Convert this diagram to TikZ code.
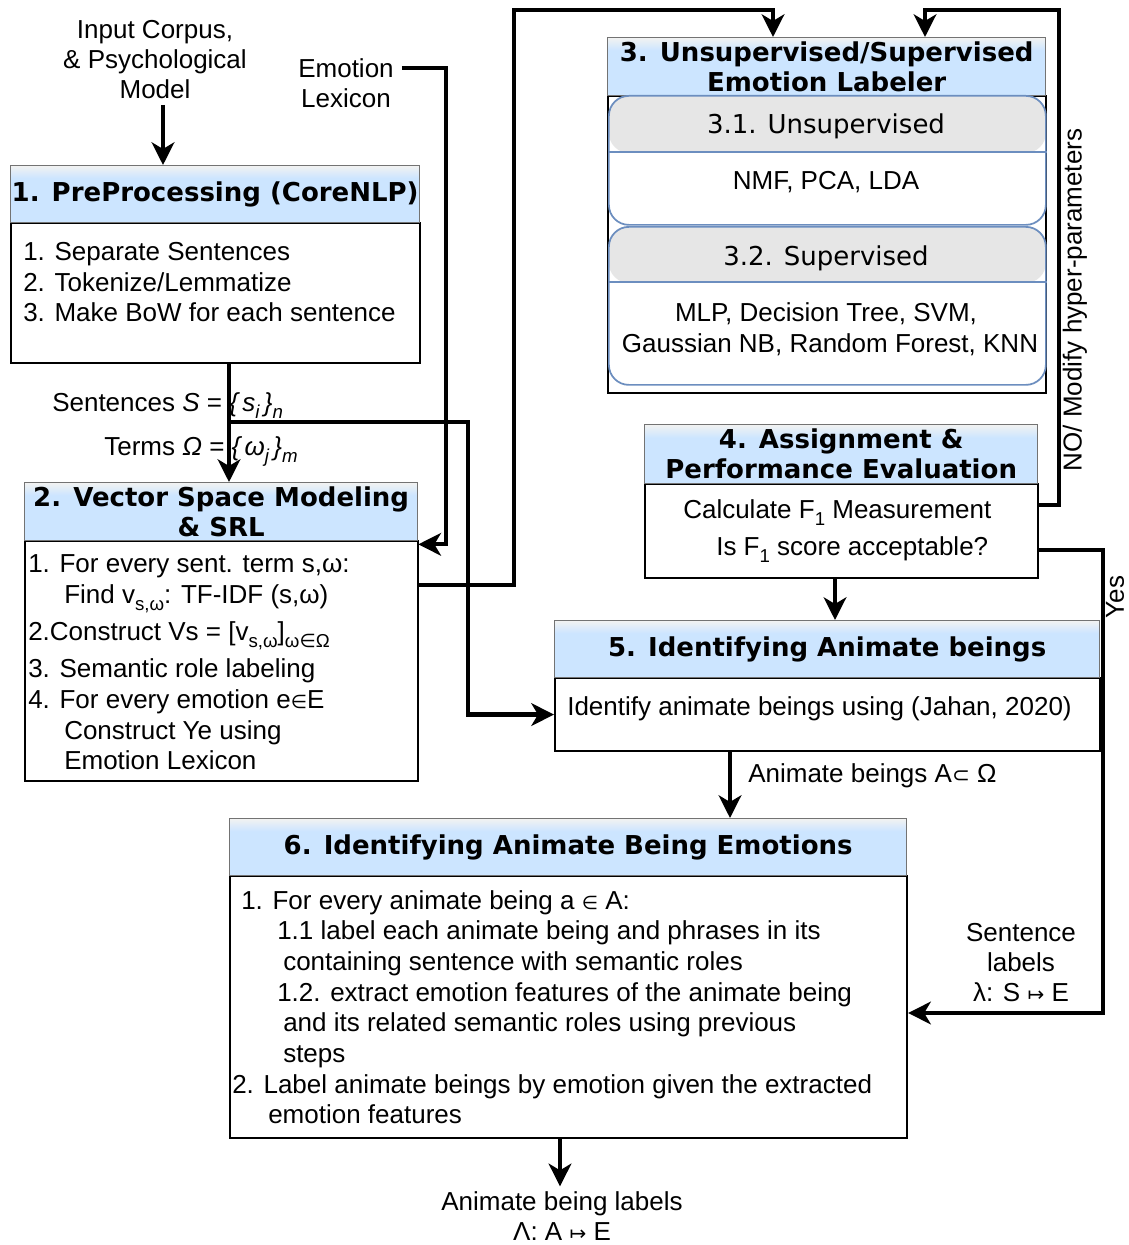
\documentclass[tikz,border=0pt]{standalone}
\usepackage{fontspec}
\setmainfont{Liberation Sans}
\newfontfamily\dv{DejaVu Sans}
\usetikzlibrary{arrows.meta,calc}
\definecolor{hdrblue}{HTML}{CCE5FF}
\definecolor{hdrtop}{HTML}{F2F2F2}
\definecolor{innerline}{HTML}{6C8EBF}
\definecolor{graybg}{HTML}{E6E6E6}
\pgfdeclareverticalshading{hdrshade}{100bp}{color(0bp)=(hdrblue); color(25bp)=(hdrblue); color(64bp)=(hdrblue); color(75bp)=(hdrtop); color(100bp)=(hdrtop)}
\newcommand{\bodyf}{\fontsize{19.5}{23.25}\selectfont}
\newcommand{\titlef}{\dv\bfseries\fontsize{19.5}{22.5}\selectfont}
\newcommand{\subf}{\dv\fontsize{19.5}{23}\selectfont}
\newcommand{\sbs}[1]{\raisebox{-0.28em}{\fontsize{14}{14}\selectfont #1}}
\newcommand{\elem}{{\dv\fontsize{14}{14}\selectfont ∈}}
\newcommand{\subsetsym}{{\dv\fontsize{16}{16}\selectfont ⊂}}
\newcommand{\mapsym}{{\dv\fontsize{15}{15}\selectfont ↦}}
\tikzset{
  hdr/.style={draw=black!55, line width=1pt, shading=hdrshade, anchor=north west, inner sep=0pt, font=\titlef, align=center},
  bodybox/.style={draw=black, line width=1.6pt, fill=white, anchor=north west, inner sep=0pt},
  innerbox/.style={draw=innerline, line width=1.3pt, fill=white, rounded corners=15pt, anchor=north west, inner sep=0pt},
  txt/.style={anchor=base west, inner sep=0pt, font=\bodyf},
  ctxt/.style={anchor=base, inner sep=0pt, font=\bodyf},
  lbl/.style={inner sep=0pt, font=\bodyf, align=center},
  conn/.style={line width=3.2pt, -{Stealth[length=17pt,width=17pt,inset=5pt]}},
}
\begin{document}
\begin{tikzpicture}[x=0.75pt,y=-0.75pt]
\useasboundingbox (0,0) rectangle (1128,1245);

% ---------- Box 1
\node[bodybox, minimum width=409*0.75pt, minimum height=140*0.75pt] (b1) at (10,222) {};
\node[hdr, minimum width=409*0.75pt, minimum height=57*0.75pt] (h1) at (10,165) {1. PreProcessing (CoreNLP)};
\node[txt] (t1a) at (23,260) {1. Separate Sentences};
\node[txt] (t1b) at (23,291) {2. Tokenize/Lemmatize};
\node[txt] (t1c) at (23,321) {3. Make BoW for each sentence};

% ---------- Box 2
\node[bodybox, minimum width=393*0.75pt, minimum height=240*0.75pt] (b2) at (24,540) {};
\node[hdr, minimum width=393*0.75pt, minimum height=58*0.75pt] (h2) at (24,482) {2. Vector Space Modeling\\\& SRL};
\node[txt] (t2a) at (28,572) {1. For every sent. term s,ω:};
\node[txt] (t2b) at (64,603) {Find v\sbs{s,ω}: TF-IDF (s,ω)};
\node[txt] (t2c) at (28,640) {2.Construct Vs = [v\sbs{s,ω}]\sbs{ω\elem Ω}};
\node[txt] (t2d) at (28,677) {3. Semantic role labeling};
\node[txt] (t2e) at (28,708) {4. For every emotion e\elem E};
\node[txt] (t2f) at (64,739) {Construct Ye using};
\node[txt] (t2g) at (64,769) {Emotion Lexicon};

% ---------- Box 3
\node[bodybox, minimum width=438*0.75pt, minimum height=297*0.75pt] (b3) at (607,95) {};
\node[hdr, minimum width=438*0.75pt, minimum height=58*0.75pt] (h3) at (607,37) {3. Unsupervised/Supervised\\Emotion Labeler};
\node[innerbox, minimum width=437*0.75pt, minimum height=129*0.75pt,
  path picture={\fill[graybg] (path picture bounding box.north west) rectangle ([yshift=-57*0.75pt]path picture bounding box.north east);}] (u31) at (608,95) {};
\draw[innerline, line width=1.3pt] ($(u31.north west)+(0,57)$) -- ($(u31.north east)+(0,57)$);
\node[innerbox, minimum width=437*0.75pt, minimum height=158*0.75pt,
  path picture={\fill[graybg] (path picture bounding box.north west) rectangle ([yshift=-56*0.75pt]path picture bounding box.north east);}] (u32) at (608,226) {};
\draw[innerline, line width=1.3pt] ($(u32.north west)+(0,56)$) -- ($(u32.north east)+(0,56)$);
\node[anchor=base, inner sep=0pt, font=\subf] (t31h) at (826,134) {3.1. Unsupervised};
\node[ctxt] (t31b) at (826,190) {NMF, PCA, LDA};
\node[anchor=base, inner sep=0pt, font=\subf] (t32h) at (826,265) {3.2. Supervised};
\node[ctxt] (t32b) at (826,321) {MLP, Decision Tree, SVM,};
\node[ctxt] (t32c) at (830,352) {Gaussian NB, Random Forest, KNN};

% ---------- Box 4
\node[bodybox, minimum width=393*0.75pt, minimum height=94*0.75pt] (b4) at (644,483) {};
\node[hdr, minimum width=393*0.75pt, minimum height=59*0.75pt] (h4) at (644,424) {4. Assignment \&\\Performance Evaluation};
\node[txt] (t4a) at (683,518) {Calculate F\sbs{1} Measurement};
\node[txt] (t4b) at (716,555) {Is F\sbs{1} score acceptable?};

% ---------- Box 5
\node[bodybox, minimum width=545*0.75pt, minimum height=73*0.75pt] (b5) at (554,677) {};
\node[hdr, minimum width=545*0.75pt, minimum height=57*0.75pt] (h5) at (554,620) {5. Identifying Animate beings};
\node[txt] (t5a) at (567,715) {Identify animate beings using (Jahan, 2020)};

% ---------- Box 6
\node[bodybox, minimum width=677*0.75pt, minimum height=262*0.75pt] (b6) at (229,875) {};
\node[hdr, minimum width=677*0.75pt, minimum height=57*0.75pt] (h6) at (229,818) {6. Identifying Animate Being Emotions};
\node[txt] (t6a) at (241,909) {1. For every animate being a \elem\ A:};
\node[txt] (t6b) at (277,939) {1.1 label each animate being and phrases in its};
\node[txt] (t6c) at (283,970) {containing sentence with semantic roles};
\node[txt] (t6d) at (277,1001) {1.2. extract emotion features of the animate being};
\node[txt] (t6e) at (283,1031) {and its related semantic roles using previous};
\node[txt] (t6f) at (283,1062) {steps};
\node[txt] (t6g) at (232,1093) {2. Label animate beings by emotion given the extracted};
\node[txt] (t6h) at (268,1123) {emotion features};

% ---------- free labels
\node[lbl, font=\fontsize{19.5}{22.5}\selectfont] (inp) at (155,60) {Input Corpus,\\\& Psychological\\Model};
\node[lbl, font=\fontsize{19.5}{22.5}\selectfont] (lex) at (346,83) {Emotion\\Lexicon};
\node[txt] (lsent) at (52,411) {Sentences \textit{S} = \textit{\{\,s\sbs{i}\,\}\sbs{n}}};
\node[txt] (lterm) at (104,455) {Terms \textit{Ω} = \textit{\{\,ω\sbs{j}\,\}\sbs{m}}};
\node[txt] (lanim) at (748,782) {Animate beings A\subsetsym\ Ω};
\node[lbl, font=\fontsize{19.5}{22.5}\selectfont] (lslab) at (1021,963) {Sentence\\labels\\λ: S \mapsym\ E};
\node[lbl, font=\fontsize{19.5}{22.5}\selectfont] (lout) at (562,1216) {Animate being labels\\Λ: A \mapsym\ E};
\node[lbl, rotate=90] (lno) at (1075,300) {NO/ Modify hyper-parameters};
\node[lbl, rotate=90] (lyes) at (1115,597) {Yes};

% ---------- connectors
\draw[conn] ($(h1.north west)+(153,-60)$) -- ($(h1.north west)+(153,0)$);
\draw[conn] ($(b1.south west)+(219,0)$) -- ($(h2.north west)+(205,0)$);
\draw[conn] ($(b1.south west)+(219,58)$) -| ($(b5.west)+(-86,0)$) -- (b5.west);
\draw[conn] ($(lex.east)+(8,-15)$) -| ($(h2.south east)+(28,3)$) -- ($(h2.south east)+(0,3)$);
\draw[conn] ($(b2.north east)+(0,45)$) -- ++(95,0) |- ($(h3.north west)+(166,-27)$) -- ($(h3.north west)+(166,0)$);
\draw[conn] ($(b4.north east)+(0,22)$) -- ++(20,0) |- ($(h3.north west)+(318,-27)$) -- ($(h3.north west)+(318,0)$);
\draw[conn] ($(b4.south west)+(191,0)$) -- ($(h5.north west)+(281,0)$);
\draw[conn] ($(b4.north east)+(0,67)$) -- ++(64,0) |- ($(b6.north east)+(0,138)$);
\draw[conn] ($(b5.south west)+(176,0)$) -- ($(h6.north west)+(501,0)$);
\draw[conn] ($(b6.south west)+(331,0)$) -- ($(lout.north)+(-2,-5)$);
\end{tikzpicture}
\end{document}
